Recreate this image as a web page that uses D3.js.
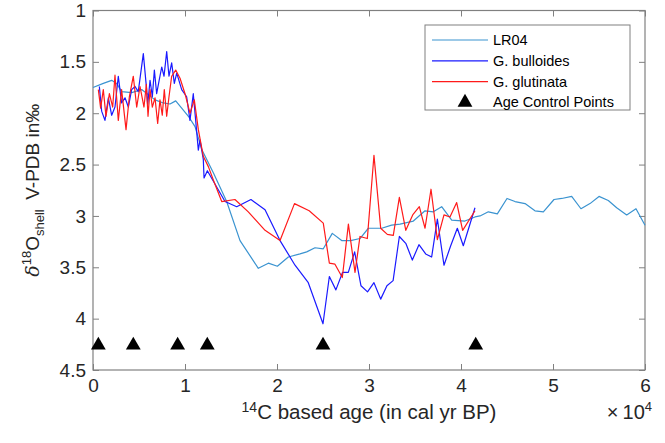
<!DOCTYPE html>
<html>
<head>
<meta charset="utf-8">
<script src="https://cdn.jsdelivr.net/npm/d3@7"></script>
<style>
  body { margin: 0; background: #fff; }
  svg { font-family: "Liberation Sans", Arial, sans-serif; }
</style>
</head>
<body>
<div id="chart-area"></div>
<script>
// LR04 stack
var lr04Age = [0, 1120, 2030, 2570, 3110, 4200, 5290, 6740, 7650, 8370, 8990, 9640, 10370, 11090, 11810, 13080,
    14530, 15980, 17970, 19060, 20040, 21230, 22500, 23230, 24130, 25030, 26010, 27030, 28010, 29020, 29930,
    31380, 32460, 33370, 34820, 36090, 36990, 37900, 38990, 40430, 41520, 42070, 42970, 43950, 45000, 45870,
    46960, 48040, 48950, 50110, 50950, 52030, 53040, 54020, 55000, 56010, 56920, 58010, 59020, 60000];
var lr04Val = [1.75, 1.71, 1.68, 1.71, 1.79, 1.80, 1.77, 1.87, 1.90, 1.91, 1.88, 1.95, 2.03, 2.13, 2.35, 2.58,
    2.86, 3.24, 3.51, 3.46, 3.49, 3.40, 3.37, 3.35, 3.31, 3.32, 3.17, 3.24, 3.24, 3.22, 3.12,
    3.12, 3.09, 3.08, 3.05, 2.95, 2.96, 2.91, 3.04, 3.05, 3.01, 3.00, 2.96, 2.98, 2.83, 2.86,
    2.88, 2.95, 2.96, 2.84, 2.83, 2.81, 2.93, 2.88, 2.81, 2.85, 2.92, 2.99, 2.93, 3.09];

// G. bulloides
var bullAge = [690, 940, 1300, 1670, 2030, 2390, 2750, 3110, 3480, 3840, 4200, 4570, 4920, 5470, 5830, 5940,
    6200, 6450, 6670, 6920, 7170, 7470, 7720, 8010, 8260, 8550, 8840, 9100, 9640, 10180, 10540, 10900,
    11160, 11450, 11630, 11990, 12070, 12430, 14350, 15620, 17170, 18700, 20330, 21960, 23400, 25000,
    25690, 26400, 27120, 27750, 28440, 29130, 29840, 30540, 31270, 31950, 32620, 33300, 34020, 34710,
    35430, 36160, 36810, 37430, 38150, 38880, 39600, 40250, 41520];
var bullVal = [1.74, 1.98, 2.07, 1.85, 2.02, 1.94, 1.64, 1.90, 1.85, 1.94, 1.77, 1.74, 1.79, 1.42, 1.77, 1.92,
    1.68, 1.84, 1.58, 1.81, 1.69, 1.55, 1.64, 1.40, 1.64, 1.51, 1.71, 1.61, 1.77, 1.84, 2.07, 1.81,
    2.07, 2.36, 2.26, 2.45, 2.63, 2.56, 2.86, 2.91, 2.84, 2.94, 3.24, 3.48, 3.65, 4.05,
    3.59, 3.72, 3.55, 3.55, 3.35, 3.68, 3.74, 3.65, 3.81, 3.68, 3.63, 3.20, 3.27, 3.43,
    3.28, 3.37, 3.40, 3.03, 3.48, 3.29, 3.12, 3.29, 2.92];

// G. glutinata
var glutAge = [580, 830, 1120, 1410, 1780, 2140, 2390, 2750, 3110, 3590, 3950, 4380, 4750, 5110, 5540, 5800,
    5980, 6200, 6450, 6740, 7030, 7280, 7530, 7750, 8010, 8260, 8550, 8990, 9460, 10000, 10540, 11010,
    11450, 11990, 12540, 13080, 13990, 15430, 16880, 18700, 20330, 21900, 23500, 25030, 25690, 26300,
    27100, 27760, 28480, 29020, 29820, 30540, 31270, 31990, 32640, 33300, 34000, 34750, 35470, 36090,
    36740, 37430, 38150, 38800, 39530, 40180, 41520];
var glutVal = [1.77, 1.95, 1.77, 2.03, 1.81, 1.94, 1.63, 2.07, 1.77, 2.16, 1.84, 1.64, 1.94, 1.74, 1.94, 1.72,
    2.03, 1.77, 1.94, 1.85, 2.10, 1.87, 2.02, 1.77, 2.03, 1.84, 1.64, 1.58, 1.66, 1.81, 2.00, 1.87,
    2.16, 2.42, 2.52, 2.65, 2.86, 2.84, 2.96, 3.14, 3.24, 2.88, 2.95, 3.07, 3.46, 3.47,
    3.60, 3.08, 3.55, 3.20, 3.22, 2.41, 3.12, 3.18, 3.19, 2.82, 3.14, 2.99, 2.91, 3.12,
    2.74, 3.23, 2.99, 3.01, 2.87, 3.14, 2.95];

// age control points
var acpAge = [580, 4380, 9200, 12420, 25000, 41600];
var acpVal = 4.25;

var xTicks = [0, 10000, 20000, 30000, 40000, 50000, 60000];
var xTickLabels = ["0", "1", "2", "3", "4", "5", "6"];
var yTicks = [1, 1.5, 2, 2.5, 3, 3.5, 4, 4.5];
var yTickLabels = ["1", "1.5", "2", "2.5", "3", "3.5", "4", "4.5"];

var seriesNames = ["LR04", "G. bulloides", "G. glutinata", "Age Control Points"];
var seriesColors = ["#3a93d0", "#1a1aff", "#ff1a1a"];

var margin = {top: 10.5, right: 20, bottom: 73, left: 93},
    width = 665 - margin.left - margin.right,
    height = 443 - margin.top - margin.bottom;

var svg = d3.select("#chart-area")
    .append("svg")
        .attr("width", 665)
        .attr("height", 443);

var g = svg.append("g")
    .attr("transform", "translate(" + margin.left + "," + margin.top + ")");

var x = d3.scaleLinear()
    .domain([0, 60000])
    .range([0, width]);

var y = d3.scaleLinear()
    .domain([1, 4.5])
    .range([0, height]);

var axisColor = "#808080";
var textColor = "#262626";

// axes, MATLAB style: ticks pointing in, box around
var xAxisCall = d3.axisBottom(x)
    .tickValues(xTicks)
    .tickSizeInner(-6)
    .tickSizeOuter(0)
    .tickPadding(9)
    .tickFormat((d, i) => xTickLabels[i]);

var yAxisCall = d3.axisLeft(y)
    .tickValues(yTicks)
    .tickSizeInner(-6)
    .tickSizeOuter(0)
    .tickPadding(7)
    .tickFormat((d, i) => yTickLabels[i]);

g.append("g")
    .attr("class", "x axis")
    .attr("transform", "translate(0," + height + ")")
    .call(xAxisCall);

g.append("g")
    .attr("class", "y axis")
    .call(yAxisCall);

g.append("g")
    .attr("class", "x2 axis")
    .call(d3.axisTop(x).tickValues(xTicks).tickSizeInner(-6).tickSizeOuter(0).tickFormat(""));

g.append("g")
    .attr("class", "y2 axis")
    .attr("transform", "translate(" + width + ",0)")
    .call(d3.axisRight(y).tickValues(yTicks).tickSizeInner(-6).tickSizeOuter(0).tickFormat(""));

g.selectAll(".axis .domain").remove();
g.selectAll(".axis .tick line").attr("stroke", axisColor);
g.selectAll(".axis text")
    .attr("fill", textColor)
    .attr("font-size", "19px")
    .attr("font-family", "Liberation Sans, Arial, sans-serif");

g.append("rect")
    .attr("x", 0)
    .attr("y", 0)
    .attr("width", width)
    .attr("height", height)
    .attr("fill", "none")
    .attr("stroke", axisColor)
    .attr("stroke-width", 1.2);

// lines
var line = d3.line()
    .x((d) => x(d[0]))
    .y((d) => y(d[1]));

var series = [
    d3.zip(lr04Age, lr04Val),
    d3.zip(bullAge, bullVal),
    d3.zip(glutAge, glutVal)
];

g.selectAll("path.series")
    .data(series)
    .enter()
    .append("path")
        .attr("class", "series")
        .attr("d", line)
        .attr("fill", "none")
        .attr("stroke", (d, i) => seriesColors[i])
        .attr("stroke-width", 1.2)
        .attr("stroke-linejoin", "round");

var tri = d3.symbol().type(d3.symbolTriangle).size(95);

g.selectAll("path.acp")
    .data(acpAge)
    .enter()
    .append("path")
        .attr("class", "acp")
        .attr("d", tri)
        .attr("transform", (d) => "translate(" + x(d) + "," + (y(acpVal) + 1) + ")")
        .attr("fill", "#000");

// axis labels
svg.append("text")
    .attr("x", margin.left + width / 2)
    .attr("y", 419)
    .attr("text-anchor", "middle")
    .attr("font-size", "20.5px")
    .attr("fill", textColor)
    .call((t) => {
        t.append("tspan").attr("font-size", "14px").attr("dy", "-7").text("14");
        t.append("tspan").attr("dy", "7").text("C based age (in cal yr BP)");
    });

svg.append("text")
    .attr("x", 652)
    .attr("y", 419)
    .attr("text-anchor", "end")
    .attr("font-size", "20px")
    .attr("fill", textColor)
    .call((t) => {
        t.append("tspan").text("\u00d7\u200910");
        t.append("tspan").attr("font-size", "13px").attr("dy", "-8").text("4");
    });

svg.append("text")
    .attr("transform", "translate(39," + (margin.top + height / 2) + ") rotate(-90)")
    .attr("text-anchor", "middle")
    .attr("font-size", "19px")
    .attr("fill", textColor)
    .call((t) => {
        t.append("tspan").attr("font-family", "DejaVu Serif, serif").attr("font-style", "italic").text("\u03b4");
        t.append("tspan").attr("font-size", "13px").attr("dy", "-8").text("18");
        t.append("tspan").attr("dy", "8").text("O");
        t.append("tspan").attr("font-size", "13px").attr("dy", "5").text("shell");
        t.append("tspan").attr("dy", "-5").text("\u2002V-PDB in\u2030");
    });

// legend
var legend = svg.append("g")
    .attr("class", "legend")
    .attr("transform", "translate(425,25)");

legend.append("rect")
    .attr("width", 205)
    .attr("height", 85)
    .attr("fill", "#fff")
    .attr("stroke", axisColor)
    .attr("stroke-width", 1);

var rows = legend.selectAll("g.row")
    .data(seriesNames)
    .enter()
    .append("g")
        .attr("class", "row")
        .attr("transform", (d, i) => "translate(0," + (15 + i * 20.8) + ")");

rows.filter((d, i) => i < 3)
    .append("line")
        .attr("x1", 7)
        .attr("x2", 63)
        .attr("stroke", (d, i) => seriesColors[i])
        .attr("stroke-width", 1.2);

rows.filter((d, i) => i === 3)
    .append("path")
        .attr("d", tri)
        .attr("transform", "translate(40,0)")
        .attr("fill", "#000");

rows.append("text")
    .attr("x", 68)
    .attr("dy", "0.35em")
    .attr("font-size", "14.5px")
    .attr("fill", "#000")
    .text((d) => d);
</script>
</body>
</html>
